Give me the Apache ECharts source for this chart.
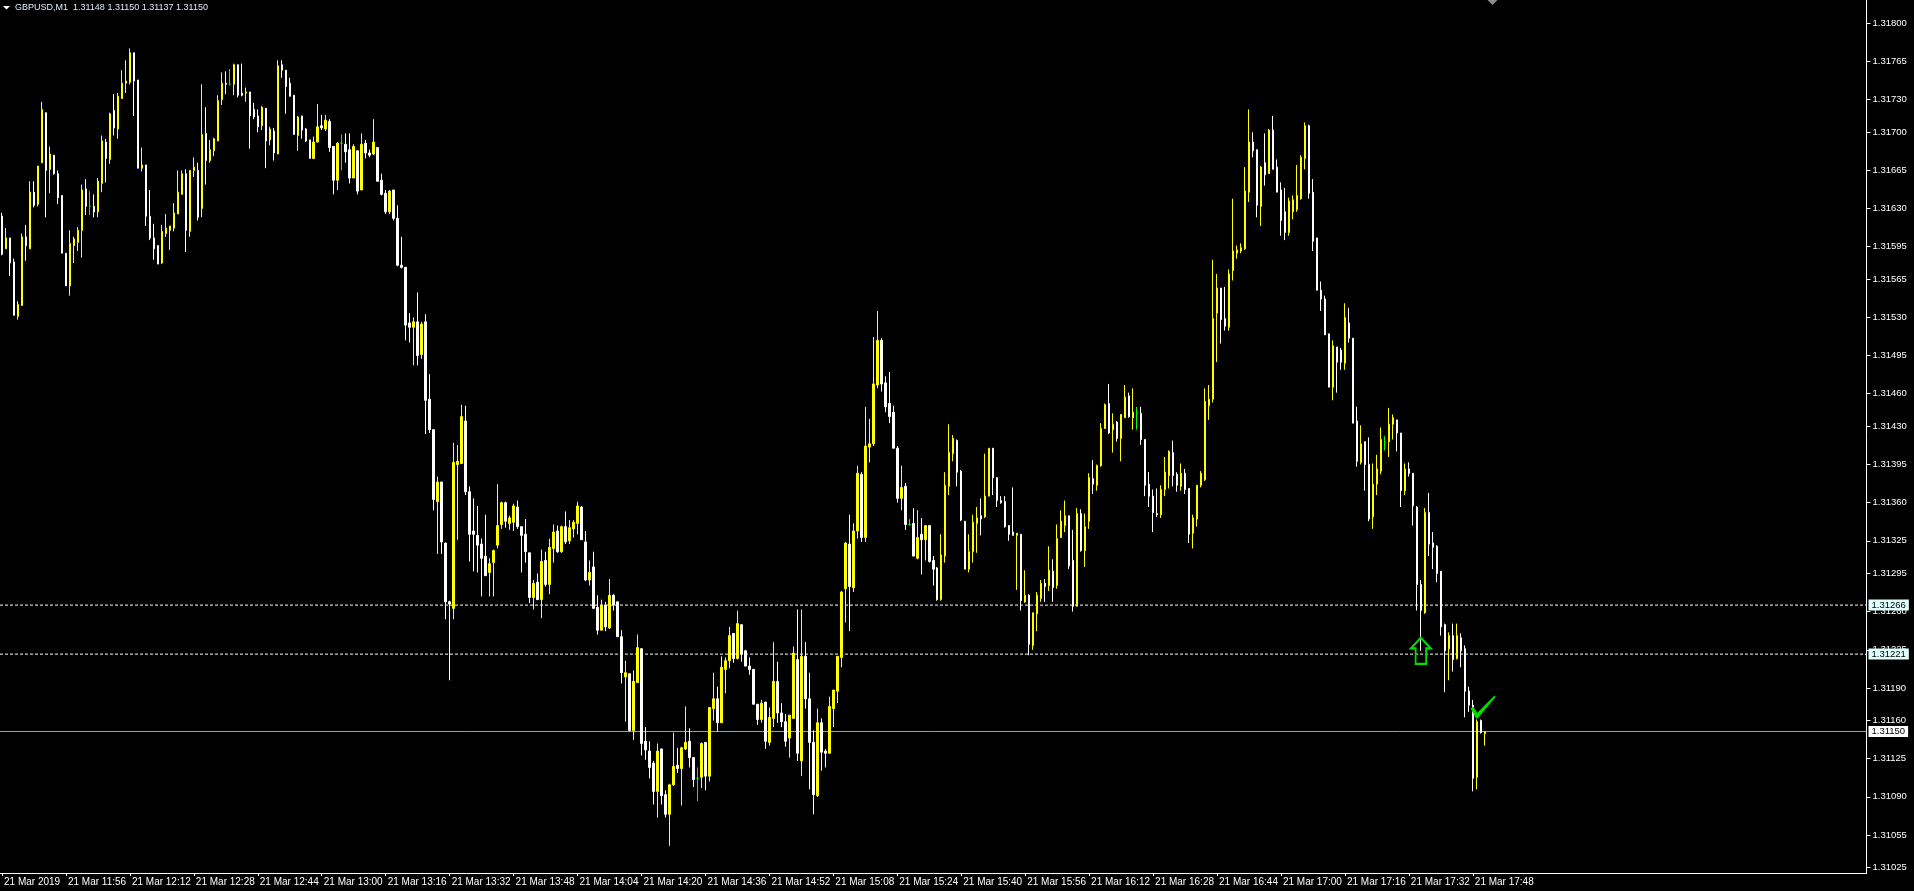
<!DOCTYPE html>
<html><head><meta charset="utf-8">
<script src="https://cdn.jsdelivr.net/npm/echarts@6/dist/echarts.min.js"></script>
<style>html,body{margin:0;padding:0;background:#000;}#c{width:1914px;height:891px;}</style>
</head><body><div id="c"></div>
<script>
const symbolTitle = 'GBPUSD,M1  1.31148 1.31150 1.31137 1.31150';
const dayLabel = '21 Mar';
const firstLabel = '21 Mar 2019';
const startHour = 11, startMinute = 40;
const slotCount = 467;
const labelEvery = 16;

const open = [
1.31623,1.31593,1.31603,1.31581,1.31531,1.31541,1.31604,1.31593,1.31645,1.31634,
1.31672,1.31718,1.31666,1.31679,1.31662,1.31642,1.31589,1.31559,1.31596,1.31599,
1.31610,1.31648,1.31632,1.31632,1.31627,1.31653,1.31691,1.31675,1.31720,1.31703,
1.31731,1.31745,1.31746,1.31773,1.31748,1.31667,1.31670,1.31623,1.31603,1.31596,
1.31580,1.31607,1.31610,1.31612,1.31625,1.31643,1.31662,1.31609,1.31665,1.31665,
1.31630,1.31699,1.31674,1.31683,1.31692,1.31730,1.31745,1.31744,1.31744,1.31762,
1.31736,1.31736,1.31737,1.31721,1.31715,1.31706,1.31722,1.31693,1.31701,1.31680,
1.31762,1.31757,1.31745,1.31734,1.31697,1.31715,1.31703,1.31693,1.31676,1.31691,
1.31706,1.31703,1.31710,1.31687,1.31656,1.31690,1.31689,1.31684,1.31658,1.31683,
1.31647,1.31690,1.31681,1.31680,1.31686,1.31656,1.31644,1.31627,1.31647,1.31621,
1.31578,1.31576,1.31525,1.31521,1.31526,1.31496,1.31526,1.31455,1.31427,1.31361,
1.31379,1.31323,1.31269,1.31263,1.31395,1.31396,1.31435,1.31370,1.31334,1.31330,
1.31322,1.31311,1.31296,1.31305,1.31321,1.31340,1.31360,1.31341,1.31342,1.31356,
1.31338,1.31331,1.31314,1.31273,1.31287,1.31271,1.31307,1.31285,1.31318,1.31334,
1.31315,1.31338,1.31325,1.31336,1.31341,1.31356,1.31324,1.31289,1.31301,1.31264,
1.31243,1.31266,1.31245,1.31275,1.31269,1.31237,1.31200,1.31203,1.31151,1.31195,
1.31226,1.31141,1.31132,1.31121,1.31095,1.31134,1.31092,1.31074,1.31101,1.31119,
1.31116,1.31134,1.31141,1.31126,1.31107,1.31108,1.31140,1.31109,1.31171,1.31180,
1.31158,1.31207,1.31215,1.31240,1.31217,1.31248,1.31224,1.31210,1.31207,1.31175,
1.31161,1.31177,1.31140,1.31162,1.31196,1.31167,1.31159,1.31144,1.31162,1.31216,
1.31123,1.31219,1.31180,1.31140,1.31091,1.31158,1.31132,1.31130,1.31171,1.31187,
1.31218,1.31281,1.31322,1.31282,1.31334,1.31386,1.31328,1.31411,1.31414,1.31468,
1.31509,1.31470,1.31451,1.31443,1.31410,1.31364,1.31375,1.31340,1.31341,1.31309,
1.31331,1.31326,1.31339,1.31307,1.31300,1.31271,1.31311,1.31375,1.31405,1.31417,
1.31389,1.31343,1.31299,1.31315,1.31341,1.31348,1.31347,1.31366,1.31410,1.31383,
1.31362,1.31361,1.31339,1.31333,1.31330,1.31331,1.31269,1.31275,1.31229,1.31258,
1.31272,1.31286,1.31284,1.31297,1.31284,1.31328,1.31339,1.31348,1.31307,1.31265,
1.31350,1.31316,1.31343,1.31382,1.31376,1.31394,1.31428,1.31451,1.31427,1.31434,
1.31419,1.31438,1.31458,1.31438,1.31442,1.31442,1.31418,1.31377,1.31366,1.31350,
1.31349,1.31372,1.31385,1.31406,1.31386,1.31375,1.31387,1.31373,1.31332,1.31345,
1.31376,1.31381,1.31449,1.31455,1.31534,1.31557,1.31529,1.31521,1.31573,1.31589,
1.31591,1.31593,1.31645,1.31691,1.31684,1.31632,1.31672,1.31662,1.31702,1.31668,
1.31647,1.31627,1.31608,1.31627,1.31629,1.31639,1.31676,1.31706,1.31645,1.31603,
1.31555,1.31547,1.31515,1.31466,1.31503,1.31500,1.31488,1.31525,1.31511,1.31435,
1.31397,1.31416,1.31395,1.31347,1.31377,1.31389,1.31415,1.31416,1.31432,1.31436,
1.31424,1.31371,1.31391,1.31387,1.31356,1.31285,1.31259,1.31351,1.31323,1.31320,
1.31297,1.31248,1.31226,1.31238,1.31217,1.31236,1.31226,1.31187,1.31174,1.31108,
1.31160,1.31148];

const high = [
1.31626,1.31612,1.31603,1.31584,1.31545,1.31607,1.31615,1.31655,1.31655,1.31669,
1.31728,1.31718,1.31687,1.31679,1.31665,1.31642,1.31589,1.31610,1.31604,1.31613,
1.31652,1.31657,1.31646,1.31643,1.31658,1.31697,1.31694,1.31718,1.31735,1.31736,
1.31757,1.31766,1.31777,1.31773,1.31748,1.31686,1.31670,1.31647,1.31616,1.31596,
1.31615,1.31625,1.31614,1.31635,1.31665,1.31665,1.31666,1.31665,1.31677,1.31672,
1.31744,1.31723,1.31693,1.31695,1.31734,1.31755,1.31756,1.31758,1.31763,1.31762,
1.31763,1.31741,1.31737,1.31727,1.31721,1.31724,1.31722,1.31705,1.31704,1.31766,
1.31766,1.31757,1.31750,1.31734,1.31715,1.31715,1.31704,1.31693,1.31696,1.31726,
1.31716,1.31716,1.31712,1.31687,1.31691,1.31698,1.31699,1.31699,1.31689,1.31683,
1.31699,1.31693,1.31684,1.31712,1.31686,1.31662,1.31647,1.31647,1.31647,1.31633,
1.31604,1.31576,1.31534,1.31530,1.31553,1.31526,1.31533,1.31478,1.31427,1.31384,
1.31379,1.31323,1.31270,1.31415,1.31413,1.31450,1.31449,1.31375,1.31364,1.31357,
1.31327,1.31349,1.31309,1.31317,1.31377,1.31361,1.31361,1.31348,1.31359,1.31362,
1.31338,1.31345,1.31314,1.31289,1.31295,1.31317,1.31315,1.31327,1.31340,1.31339,
1.31339,1.31352,1.31344,1.31344,1.31361,1.31357,1.31334,1.31307,1.31315,1.31275,
1.31271,1.31269,1.31290,1.31276,1.31269,1.31243,1.31215,1.31203,1.31206,1.31239,
1.31226,1.31154,1.31141,1.31123,1.31139,1.31134,1.31096,1.31102,1.31149,1.31135,
1.31136,1.31173,1.31153,1.31126,1.31117,1.31140,1.31140,1.31172,1.31204,1.31191,
1.31219,1.31218,1.31246,1.31240,1.31261,1.31248,1.31225,1.31218,1.31207,1.31175,
1.31179,1.31177,1.31172,1.31232,1.31214,1.31176,1.31166,1.31165,1.31228,1.31262,
1.31262,1.31232,1.31204,1.31151,1.31171,1.31162,1.31134,1.31182,1.31188,1.31219,
1.31279,1.31324,1.31349,1.31341,1.31394,1.31388,1.31448,1.31437,1.31512,1.31536,
1.31511,1.31476,1.31480,1.31449,1.31412,1.31394,1.31378,1.31345,1.31355,1.31353,
1.31346,1.31339,1.31339,1.31311,1.31301,1.31331,1.31388,1.31432,1.31422,1.31418,
1.31390,1.31343,1.31331,1.31349,1.31356,1.31364,1.31405,1.31410,1.31410,1.31383,
1.31366,1.31366,1.31339,1.31374,1.31332,1.31331,1.31298,1.31276,1.31259,1.31278,
1.31289,1.31290,1.31320,1.31308,1.31340,1.31353,1.31362,1.31348,1.31335,1.31355,
1.31354,1.31350,1.31387,1.31399,1.31395,1.31433,1.31451,1.31469,1.31442,1.31435,
1.31441,1.31468,1.31461,1.31465,1.31448,1.31448,1.31418,1.31388,1.31372,1.31373,
1.31376,1.31402,1.31408,1.31417,1.31388,1.31396,1.31391,1.31373,1.31349,1.31376,
1.31389,1.31465,1.31468,1.31583,1.31570,1.31557,1.31558,1.31574,1.31639,1.31596,
1.31598,1.31668,1.31721,1.31700,1.31684,1.31669,1.31699,1.31703,1.31715,1.31675,
1.31654,1.31649,1.31640,1.31642,1.31670,1.31679,1.31709,1.31707,1.31657,1.31603,
1.31563,1.31550,1.31515,1.31509,1.31503,1.31502,1.31543,1.31539,1.31511,1.31448,
1.31431,1.31416,1.31420,1.31396,1.31404,1.31429,1.31421,1.31447,1.31441,1.31436,
1.31424,1.31396,1.31397,1.31387,1.31357,1.31289,1.31355,1.31369,1.31333,1.31321,
1.31297,1.31249,1.31241,1.31249,1.31249,1.31240,1.31229,1.31191,1.31179,1.31161,
1.31161,1.31150];

const low = [
1.31587,1.31593,1.31568,1.31532,1.31528,1.31541,1.31582,1.31593,1.31631,1.31632,
1.31672,1.31622,1.31644,1.31661,1.31634,1.31589,1.31559,1.31550,1.31580,1.31591,
1.31585,1.31624,1.31624,1.31622,1.31622,1.31645,1.31654,1.31671,1.31697,1.31694,
1.31731,1.31736,1.31744,1.31715,1.31667,1.31664,1.31614,1.31601,1.31583,1.31579,
1.31579,1.31604,1.31592,1.31609,1.31625,1.31643,1.31590,1.31604,1.31659,1.31619,
1.31622,1.31652,1.31672,1.31678,1.31692,1.31725,1.31735,1.31743,1.31734,1.31732,
1.31733,1.31728,1.31685,1.31712,1.31700,1.31702,1.31667,1.31688,1.31674,1.31680,
1.31750,1.31717,1.31733,1.31698,1.31683,1.31694,1.31691,1.31676,1.31676,1.31691,
1.31702,1.31701,1.31682,1.31643,1.31647,1.31665,1.31672,1.31653,1.31658,1.31643,
1.31647,1.31676,1.31677,1.31679,1.31655,1.31642,1.31625,1.31625,1.31619,1.31577,
1.31575,1.31509,1.31507,1.31486,1.31486,1.31492,1.31423,1.31424,1.31353,1.31313,
1.31313,1.31253,1.31197,1.31253,1.31326,1.31396,1.31367,1.31306,1.31297,1.31296,
1.31274,1.31293,1.31274,1.31274,1.31318,1.31336,1.31337,1.31335,1.31334,1.31336,
1.31296,1.31305,1.31268,1.31262,1.31271,1.31254,1.31283,1.31276,1.31305,1.31314,
1.31314,1.31322,1.31322,1.31328,1.31331,1.31326,1.31288,1.31284,1.31263,1.31239,
1.31243,1.31242,1.31244,1.31261,1.31237,1.31194,1.31159,1.31150,1.31142,1.31195,
1.31128,1.31124,1.31107,1.31083,1.31071,1.31083,1.31071,1.31045,1.31100,1.31112,
1.31082,1.31133,1.31117,1.31099,1.31086,1.31098,1.31096,1.31104,1.31160,1.31150,
1.31158,1.31185,1.31208,1.31213,1.31216,1.31214,1.31210,1.31202,1.31175,1.31156,
1.31158,1.31134,1.31137,1.31154,1.31158,1.31154,1.31136,1.31126,1.31162,1.31123,
1.31109,1.31171,1.31097,1.31074,1.31090,1.31114,1.31117,1.31130,1.31154,1.31176,
1.31209,1.31250,1.31242,1.31278,1.31327,1.31324,1.31324,1.31397,1.31412,1.31465,
1.31462,1.31443,1.31433,1.31410,1.31360,1.31353,1.31335,1.31339,1.31311,1.31308,
1.31294,1.31307,1.31305,1.31284,1.31270,1.31270,1.31305,1.31367,1.31398,1.31375,
1.31343,1.31299,1.31296,1.31305,1.31314,1.31330,1.31346,1.31366,1.31367,1.31356,
1.31359,1.31337,1.31325,1.31330,1.31280,1.31261,1.31268,1.31220,1.31225,1.31242,
1.31269,1.31269,1.31279,1.31269,1.31281,1.31328,1.31333,1.31299,1.31260,1.31265,
1.31315,1.31301,1.31336,1.31368,1.31371,1.31393,1.31428,1.31423,1.31406,1.31416,
1.31398,1.31438,1.31438,1.31427,1.31427,1.31413,1.31366,1.31356,1.31333,1.31347,
1.31346,1.31366,1.31373,1.31375,1.31370,1.31371,1.31368,1.31323,1.31318,1.31338,
1.31374,1.31380,1.31436,1.31452,1.31489,1.31506,1.31518,1.31518,1.31564,1.31584,
1.31589,1.31592,1.31636,1.31677,1.31622,1.31614,1.31651,1.31662,1.31666,1.31645,
1.31605,1.31601,1.31605,1.31620,1.31627,1.31638,1.31666,1.31639,1.31591,1.31555,
1.31536,1.31514,1.31466,1.31454,1.31461,1.31482,1.31482,1.31507,1.31433,1.31393,
1.31395,1.31371,1.31343,1.31336,1.31367,1.31386,1.31408,1.31402,1.31418,1.31407,
1.31356,1.31367,1.31384,1.31339,1.31261,1.31224,1.31258,1.31311,1.31299,1.31287,
1.31238,1.31186,1.31197,1.31205,1.31216,1.31209,1.31163,1.31168,1.31095,1.31097,
1.31148,1.31137];

const close = [
1.31588,1.31603,1.31580,1.31532,1.31542,1.31604,1.31596,1.31645,1.31633,1.31669,
1.31721,1.31665,1.31680,1.31662,1.31640,1.31589,1.31559,1.31598,1.31602,1.31610,
1.31647,1.31632,1.31632,1.31627,1.31655,1.31692,1.31676,1.31717,1.31704,1.31733,
1.31745,1.31747,1.31773,1.31747,1.31667,1.31670,1.31623,1.31603,1.31593,1.31579,
1.31609,1.31612,1.31614,1.31626,1.31645,1.31662,1.31610,1.31665,1.31668,1.31622,
1.31698,1.31674,1.31684,1.31694,1.31729,1.31745,1.31744,1.31744,1.31762,1.31734,
1.31734,1.31737,1.31715,1.31714,1.31705,1.31723,1.31692,1.31703,1.31681,1.31761,
1.31757,1.31742,1.31733,1.31698,1.31714,1.31702,1.31692,1.31676,1.31691,1.31705,
1.31704,1.31711,1.31686,1.31656,1.31690,1.31690,1.31682,1.31658,1.31687,1.31646,
1.31689,1.31681,1.31679,1.31691,1.31655,1.31643,1.31627,1.31646,1.31621,1.31578,
1.31576,1.31523,1.31521,1.31526,1.31495,1.31524,1.31454,1.31427,1.31363,1.31379,
1.31324,1.31269,1.31267,1.31397,1.31398,1.31439,1.31370,1.31331,1.31331,1.31321,
1.31309,1.31293,1.31304,1.31316,1.31339,1.31360,1.31343,1.31346,1.31357,1.31338,
1.31330,1.31315,1.31273,1.31286,1.31271,1.31306,1.31285,1.31319,1.31333,1.31315,
1.31338,1.31324,1.31337,1.31342,1.31357,1.31326,1.31289,1.31296,1.31263,1.31243,
1.31266,1.31246,1.31275,1.31266,1.31237,1.31204,1.31204,1.31151,1.31196,1.31227,
1.31139,1.31133,1.31117,1.31095,1.31132,1.31091,1.31074,1.31101,1.31118,1.31116,
1.31135,1.31140,1.31126,1.31106,1.31107,1.31139,1.31109,1.31172,1.31180,1.31158,
1.31209,1.31215,1.31238,1.31217,1.31249,1.31221,1.31210,1.31207,1.31175,1.31161,
1.31176,1.31141,1.31163,1.31196,1.31167,1.31159,1.31141,1.31165,1.31222,1.31130,
1.31219,1.31180,1.31140,1.31092,1.31158,1.31131,1.31130,1.31173,1.31188,1.31219,
1.31278,1.31323,1.31283,1.31334,1.31387,1.31328,1.31412,1.31414,1.31469,1.31509,
1.31469,1.31448,1.31439,1.31410,1.31364,1.31374,1.31340,1.31340,1.31311,1.31328,
1.31326,1.31339,1.31306,1.31299,1.31271,1.31312,1.31376,1.31406,1.31419,1.31388,
1.31344,1.31299,1.31315,1.31342,1.31346,1.31345,1.31366,1.31410,1.31383,1.31362,
1.31360,1.31338,1.31331,1.31330,1.31332,1.31270,1.31275,1.31230,1.31259,1.31275,
1.31286,1.31283,1.31298,1.31282,1.31327,1.31343,1.31348,1.31302,1.31265,1.31350,
1.31316,1.31338,1.31383,1.31377,1.31394,1.31428,1.31450,1.31424,1.31432,1.31419,
1.31441,1.31457,1.31439,1.31443,1.31442,1.31418,1.31376,1.31366,1.31351,1.31349,
1.31372,1.31388,1.31407,1.31385,1.31376,1.31387,1.31372,1.31331,1.31346,1.31376,
1.31387,1.31453,1.31455,1.31529,1.31557,1.31528,1.31522,1.31570,1.31591,1.31592,
1.31594,1.31646,1.31691,1.31683,1.31633,1.31668,1.31661,1.31702,1.31666,1.31645,
1.31619,1.31608,1.31637,1.31638,1.31642,1.31677,1.31706,1.31644,1.31600,1.31555,
1.31547,1.31514,1.31466,1.31504,1.31489,1.31489,1.31530,1.31511,1.31433,1.31398,
1.31414,1.31395,1.31345,1.31377,1.31391,1.31418,1.31415,1.31432,1.31438,1.31424,
1.31371,1.31391,1.31387,1.31357,1.31285,1.31261,1.31351,1.31322,1.31319,1.31295,
1.31246,1.31224,1.31238,1.31216,1.31238,1.31224,1.31187,1.31174,1.31107,1.31159,
1.31149,1.31150];

const priceTicks = [1.31800,1.31765,1.31730,1.31700,1.31665,1.31630,1.31595,1.31565,1.31530,1.31495,1.31460,1.31430,
  1.31395,1.31360,1.31325,1.31295,1.31260,1.31225,1.31190,1.31160,1.31125,1.31090,1.31055,1.31025];
const levelLines = [1.31266, 1.31221];
const bidPrice = 1.31150;
const arrowMarks = [[355, 1.31236]];
const checkMarks = [[369, 1.31162]];
const yMin = 1.310201, yMax = 1.318214;

const FONT = '"Liberation Sans", Arial, sans-serif';

const categories = [];
for (let i = 0; i < slotCount; i++) {
  const t = startHour * 60 + startMinute + i;
  const hh = String(Math.floor(t / 60)).padStart(2, '0');
  const mm = String(t % 60).padStart(2, '0');
  categories.push(hh + ':' + mm);
}
const candleData = open.map((o, i) => [o, close[i], low[i], high[i]]);
const showLabel = (idx) => idx % labelEvery === 0 && idx < open.length;
const fmtPrice = (p) => {
  let v = p;
  if (p && typeof p === 'object') {
    v = p.value;
    if (Array.isArray(v)) v = v[1];
  }
  return Number(v).toFixed(5);
};

function hLine(value, color, type, bg) {
  return {
    type: 'line',
    xAxisIndex: 1,
    data: [[0, value], [1, value]],
    symbol: 'none',
    silent: true,
    animation: false,
    lineStyle: {color: color, type: type, width: 1},
    z: 2,
    endLabel: {
      show: true, formatter: fmtPrice, distance: 2,
      color: '#000000', backgroundColor: bg, fontSize: 9.5, fontFamily: FONT,
      padding: [1, 3, 0, 3]
    }
  };
}

const chart = echarts.init(document.getElementById('c'), null, {renderer: 'canvas'});
const option = {
  backgroundColor: '#000000',
  animation: false,
  grid: {left: -1.5, top: 0, width: 1868, height: 873, containLabel: false},
  xAxis: [{
    type: 'category',
    data: categories,
    boundaryGap: true,
    axisLine: {show: true, onZero: false, lineStyle: {color: '#ffffff', width: 1}},
    axisTick: {show: true, alignWithLabel: true, interval: showLabel, length: 3, lineStyle: {color: '#ffffff'}},
    axisLabel: {
      interval: showLabel, color: '#ffffff', fontSize: 10, fontFamily: FONT,
      align: 'left', margin: 4, padding: [0, 0, 0, 2],
      showMinLabel: true, showMaxLabel: true, hideOverlap: false,
      formatter: (v, idx) => idx === 0 ? firstLabel : dayLabel + ' ' + v
    },
    splitLine: {show: false}
  }, {
    type: 'value', min: 0, max: 1, show: false, position: 'bottom',
    axisLine: {show: false, onZero: false}
  }],
  yAxis: {
    type: 'value', position: 'right', min: yMin, max: yMax, scale: true,
    axisLine: {show: true, onZero: false, lineStyle: {color: '#ffffff', width: 1}},
    axisTick: {show: true, length: 4, customValues: priceTicks, lineStyle: {color: '#ffffff'}},
    axisLabel: {customValues: priceTicks, color: '#ffffff', fontSize: 9.5, fontFamily: FONT, margin: 6,
      showMinLabel: true, showMaxLabel: true,
      formatter: v => Number(v).toFixed(5)},
    splitLine: {show: false}
  },
  series: [
    {
      type: 'candlestick',
      data: candleData,
      barWidth: 2,
      itemStyle: {
        color: '#ffff00', color0: '#ffffff',
        borderColor: '#ffff00', borderColor0: '#ffffff',
        borderColorDoji: '#00ff00', borderWidth: 1
      },
      emphasis: {disabled: true},
      z: 3
    },
    hLine(levelLines[0], '#ffffff', [3, 2], '#e0ffff'),
    hLine(levelLines[1], '#ffffff', [3, 2], '#e0ffff'),
    hLine(bidPrice, '#a0a0a0', 'solid', '#ffffff'),
    {
      type: 'scatter',
      data: arrowMarks,
      symbol: 'path://M10.5 0 L21 11 L16 11 L16 27 L5 27 L5 11 L0 11 Z',
      symbolSize: [20, 26],
      symbolOffset: [0, 13],
      itemStyle: {color: 'rgba(0,0,0,0)', borderColor: '#00e000', borderWidth: 2, opacity: 1},
      emphasis: {disabled: true},
      silent: true, z: 5
    },
    {
      type: 'scatter',
      data: checkMarks,
      symbol: 'path://M0 13 L3 11 L6.5 17.5 L24 0 L25 1.5 L7 23 L5.5 23 Z',
      symbolSize: [25, 23],
      symbolOffset: [6.25, -11.5],
      itemStyle: {color: '#00e000', opacity: 1},
      emphasis: {disabled: true},
      silent: true, z: 5
    }
  ],
  graphic: [
    {type: 'polygon', shape: {points: [[3, 6], [10, 6], [6.5, 9.5]]}, style: {fill: '#ffffff'}, silent: true},
    {type: 'text', x: 15, y: 8, style: {text: symbolTitle, fill: '#e4ecf8', fontSize: 9, fontFamily: FONT, verticalAlign: 'middle'}, silent: true},
    {type: 'polygon', shape: {points: [[1487.5, 0], [1497.5, 0], [1492.5, 5]]}, style: {fill: '#8c8c8c'}, silent: true}
  ]
};
chart.setOption(option);
</script></body></html>
